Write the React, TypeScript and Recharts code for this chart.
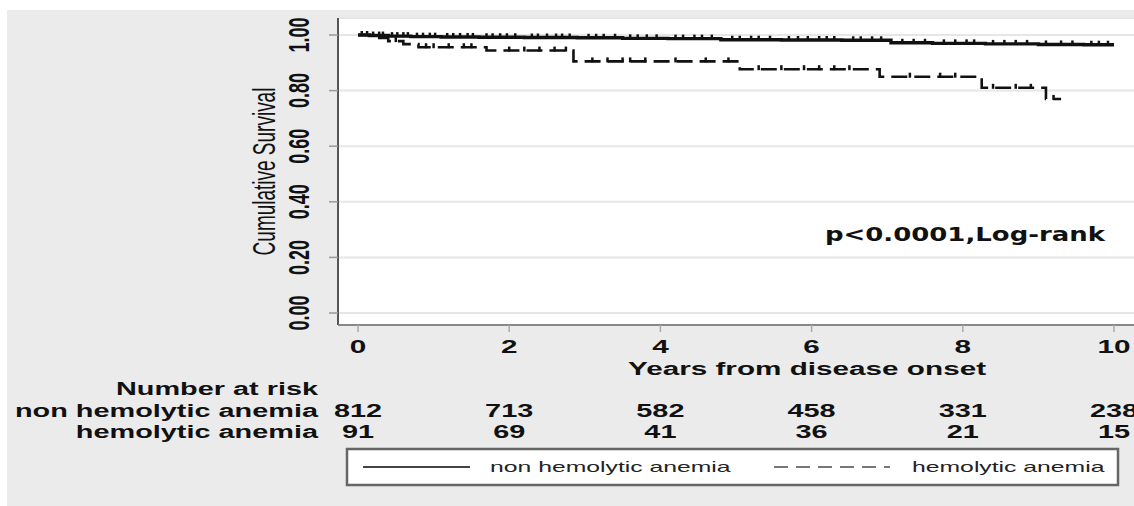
import React from 'react';
import { ComposedChart, Line, Scatter, XAxis, YAxis, CartesianGrid } from 'recharts';

const FONT = '"Liberation Sans", Arial, Helvetica, sans-serif';

// axis ticks
const years = [0, 2, 4, 6, 8, 10];
const yTicks = [0, 0.2, 0.4, 0.6, 0.8, 1.0];
const yTickLabels = ['0.00', '0.20', '0.40', '0.60', '0.80', '1.00'];

// number at risk
const riskNonHemolytic = [812, 713, 582, 458, 331, 238];
const riskHemolytic = [91, 69, 41, 36, 21, 15];

// Kaplan-Meier steps: non hemolytic anemia
const nonHemTimes = [0, 0.15, 0.4, 0.7, 1.1, 1.6, 2.2, 2.9, 3.5, 4.1, 4.8, 5.6, 6.4, 7.05, 7.6, 8.3, 9.0, 9.6, 10];
const nonHemSurv = [1.0, 0.998, 0.996, 0.994, 0.993, 0.992, 0.991, 0.99, 0.988, 0.987, 0.983, 0.982, 0.981, 0.972, 0.97, 0.968, 0.966, 0.965, 0.965];

// Kaplan-Meier steps: hemolytic anemia
const hemTimes = [0, 0.2, 0.4, 0.6, 0.8, 1.7, 2.85, 5.05, 6.9, 8.25, 9.1, 9.3];
const hemSurv = [1.0, 0.989, 0.978, 0.967, 0.956, 0.944, 0.905, 0.877, 0.85, 0.81, 0.77, 0.77];

// censoring times
const nonHemCensor = [
  0.05, 0.12, 0.2, 0.28, 0.33, 0.45, 0.52, 0.6, 0.66, 0.78, 0.86, 0.95, 1.02, 1.18, 1.26, 1.35, 1.45, 1.52,
  1.7, 1.78, 1.88, 1.97, 2.08, 2.3, 2.38, 2.5, 2.62, 2.7, 2.8, 3.05, 3.15, 3.25, 3.4, 3.6, 3.7, 3.82, 3.95,
  4.2, 4.3, 4.45, 4.55, 4.68, 4.95, 5.05, 5.2, 5.3, 5.45, 5.7, 5.82, 5.95, 6.1, 6.2, 6.3, 6.55, 6.65, 6.8,
  6.92, 7.2, 7.35, 7.5, 7.75, 7.9, 8.05, 8.15, 8.4, 8.55, 8.7, 8.85, 9.1, 9.3, 9.45, 9.7, 9.8, 9.92,
];
const hemCensor = [0.3, 0.5, 0.9, 1.0, 1.2, 1.4, 1.5, 2.0, 2.2, 2.4, 2.6, 2.75, 3.1, 3.3, 3.5, 3.6, 3.8, 4.2, 4.6, 4.9, 5.3, 5.6, 5.9, 6.1, 6.3, 6.5, 7.3, 7.7, 7.9, 8.4, 8.7, 8.9, 9.2];

const zip = (ts: number[], ss: number[]) => ts.map((t, i) => ({ t, s: ss[i] }));
const survAt = (ts: number[], ss: number[], t: number) => {
  let idx = 0;
  for (let i = 0; i < ts.length; i++) if (ts[i] <= t) idx = i;
  return ss[idx];
};

const nonHemData = zip(nonHemTimes, nonHemSurv);
const hemData = zip(hemTimes, hemSurv);
const nonHemCensorData = nonHemCensor.map((t) => ({ t, s: survAt(nonHemTimes, nonHemSurv, t) }));
const hemCensorData = hemCensor.map((t) => ({ t, s: survAt(hemTimes, hemSurv, t) }));
const riskNonData = years.map((t, i) => ({ t, n: riskNonHemolytic[i] }));
const riskHemData = years.map((t, i) => ({ t, n: riskHemolytic[i] }));

const SX = 1.65;

function SText(props: any) {
  const { x, y, children, anchor = 'middle', size = 18, weight = 'bold', sx = SX, fill = '#111', family = FONT, rotate = false } = props;
  const tr = rotate
    ? `translate(${x},${y}) scale(${sx},1) rotate(-90)`
    : `translate(${x},${y}) scale(${sx},1)`;
  return (
    <g transform={tr}>
      <text x={0} y={0} textAnchor={anchor} dominantBaseline="central" fontSize={size} fontWeight={weight} fill={fill} fontFamily={family}>
        {children}
      </text>
    </g>
  );
}

const XTick = (p: any) => (
  <SText x={p.x} y={p.y + 13} size={18}>{String(p.payload.value)}</SText>
);

const YTick = (p: any) => {
  const i = yTicks.findIndex((v) => Math.abs(v - p.payload.value) < 1e-6);
  return (
    <SText x={p.x - 28} y={p.y} size={18} rotate>{yTickLabels[i]}</SText>
  );
};

const makeRiskTick = (vals: number[]) => (p: any) => {
  const i = years.indexOf(p.payload.value);
  return <SText x={p.x} y={p.y + 21} size={17.5}>{String(vals[i])}</SText>;
};
const RiskTickNon = makeRiskTick(riskNonHemolytic);
const RiskTickHem = makeRiskTick(riskHemolytic);

const CensorMark = (p: any) => {
  const { cx, cy } = p;
  if (cx == null || cy == null) return null;
  return <line x1={cx} x2={cx} y1={cy - 4} y2={cy + 1} stroke="#111" strokeWidth={2.5} />;
};

const riskAxisProps = {
  type: 'number' as const,
  dataKey: 't',
  domain: [0, 10] as [number, number],
  ticks: years,
  padding: { left: 20, right: 20 },
  height: 21,
  axisLine: false,
  tickLine: false,
  tickSize: 0,
  tickMargin: 0,
};

export default function App() {
  return (
    <div style={{ position: 'absolute', left: 0, top: 0, width: 1134, height: 506, background: '#ffffff', overflow: 'hidden' }}>
      <div style={{ position: 'absolute', left: 7, top: 10, width: 1127, height: 496, background: '#ebebeb' }} />
      <div style={{ position: 'absolute', left: 0, top: 0 }}>
        <ComposedChart width={1134} height={506} margin={{ top: 18, right: 0, bottom: 74, left: 0 }}>
          <CartesianGrid vertical={false} horizontal fill="#ffffff" stroke="#e6e6e6" strokeWidth={2} />
          <YAxis
            type="number"
            domain={[0, 1]}
            ticks={yTicks}
            width={338}
            padding={{ top: 17, bottom: 12 }}
            axisLine={{ stroke: '#555', strokeWidth: 2 }}
            tickLine={{ stroke: '#999', strokeWidth: 1.5 }}
            tickSize={9}
            tick={YTick}
            label={{
              content: (lp: any) => {
                const vb = lp.viewBox || {};
                return (
                  <SText x={264} y={(vb.y ?? 18) + (vb.height ?? 307) / 2} size={19} weight="normal" rotate>
                    Cumulative Survival
                  </SText>
                );
              },
            }}
          />
          <YAxis yAxisId="risk" hide type="number" domain={[0, 1000]} />
          <XAxis
            type="number"
            dataKey="t"
            domain={[0, 10]}
            ticks={years}
            padding={{ left: 20, right: 20 }}
            height={65}
            axisLine={{ stroke: '#888', strokeWidth: 2 }}
            tickLine={{ stroke: '#aaa', strokeWidth: 1.5 }}
            tickSize={7}
            tick={XTick}
            label={{
              content: (lp: any) => {
                const vb = lp.viewBox || {};
                return (
                  <SText x={(vb.x ?? 338) + 469} y={(vb.y ?? 325) + 44} size={18}>
                    Years from disease onset
                  </SText>
                );
              },
            }}
          />
          <XAxis xAxisId="r1" {...riskAxisProps} tick={RiskTickNon} />
          <XAxis xAxisId="r2" {...riskAxisProps} tick={RiskTickHem} />
          <Line xAxisId="r1" yAxisId="risk" data={riskNonData} dataKey="n" stroke="none" dot={false} activeDot={false} isAnimationActive={false} />
          <Line xAxisId="r2" yAxisId="risk" data={riskHemData} dataKey="n" stroke="none" dot={false} activeDot={false} isAnimationActive={false} />
          <Line
            data={nonHemData}
            dataKey="s"
            type="stepAfter"
            stroke="#111"
            strokeWidth={3.4}
            dot={false}
            isAnimationActive={false}
          />
          <Line
            data={hemData}
            dataKey="s"
            type="stepAfter"
            stroke="#111"
            strokeWidth={2.6}
            strokeDasharray="16 7"
            dot={false}
            isAnimationActive={false}
          />
          <Scatter data={nonHemCensorData} dataKey="s" shape={CensorMark} isAnimationActive={false} />
          <Scatter data={hemCensorData} dataKey="s" shape={CensorMark} isAnimationActive={false} />
        </ComposedChart>
      </div>
      <svg width={1134} height={506} style={{ position: 'absolute', left: 0, top: 0, pointerEvents: 'none' }}>
        <text x={965} y={234} textAnchor="middle" dominantBaseline="central" fontSize={19} fontWeight="bold" fill="#111"
          fontFamily='"DejaVu Sans", Verdana, sans-serif' textLength={280} lengthAdjust="spacingAndGlyphs">
          p&lt;0.0001,Log-rank
        </text>
        <SText x={318} y={389} anchor="end" size={17.5}>Number at risk</SText>
        <SText x={318} y={411} anchor="end" size={17.5}>non hemolytic anemia</SText>
        <SText x={318} y={432} anchor="end" size={17.5}>hemolytic anemia</SText>
        <rect x={347} y={449} width={771} height={36} fill="#ffffff" stroke="#666" strokeWidth={2.5} />
        <line x1={363} x2={470} y1={467} y2={467} stroke="#444" strokeWidth={2} />
        <SText x={490} y={467} anchor="start" size={15} weight="normal" fill="#222">non hemolytic anemia</SText>
        <line x1={774} x2={890} y1={467} y2={467} stroke="#777" strokeWidth={2} strokeDasharray="14 8" />
        <SText x={912} y={467} anchor="start" size={15} weight="normal" fill="#222">hemolytic anemia</SText>
      </svg>
    </div>
  );
}
